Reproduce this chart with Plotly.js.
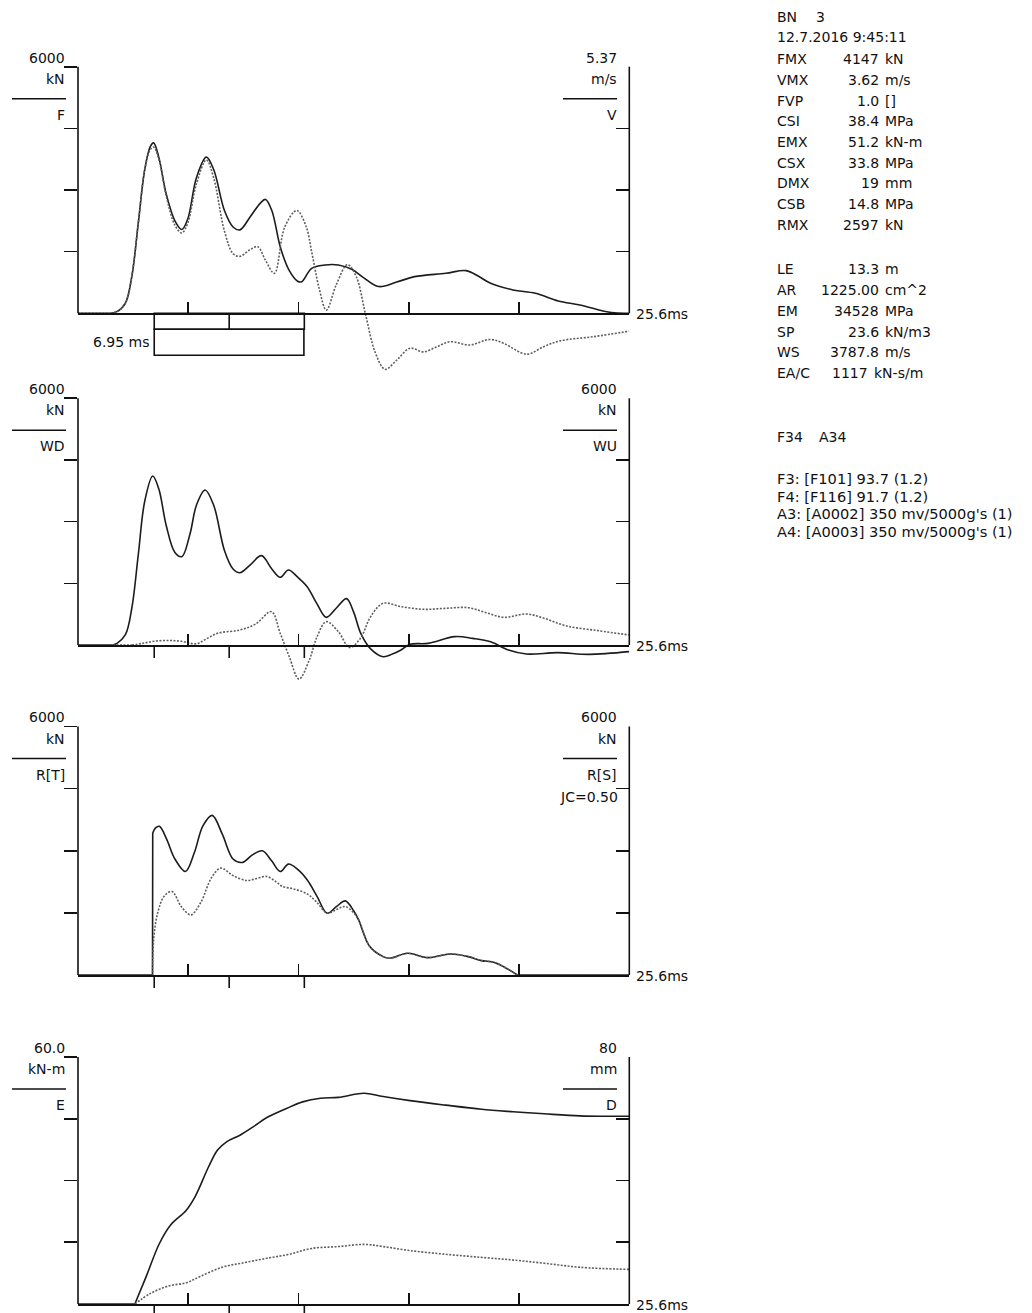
<!DOCTYPE html>
<html>
<head>
<meta charset="utf-8">
<script src="https://cdn.plot.ly/plotly-3.0.1.min.js"></script>
<style>
  html, body { margin: 0; padding: 0; background: #ffffff; }
  #chart { width: 1032px; height: 1313px; }
</style>
</head>
<body>
<div id="chart"></div>
<script>
// ---------------- DATA ----------------
const tMax = 25.6;                         // ms
const timeTicks = [5.12, 10.24, 15.36, 20.48];
const impactMarks = [3.54, 7.02, 10.51];   // ms
const waveTimeMs = 6.95;

// Panel 1: Force (kN) and Velocity (m/s)
const forceTime = [0, 1.5, 1.81, 2.2, 2.5, 2.8, 3.1, 3.35, 3.51, 3.75, 4.1, 4.5, 4.82, 5.1, 5.5, 5.96, 6.3, 6.8, 7.2, 7.52, 8.0, 8.5, 8.71, 9.0, 9.4, 9.8, 10.2, 10.39, 10.85, 11.47, 12.09, 12.71, 13.24, 13.96, 14.8, 15.63, 17.08, 18.02, 18.6, 19.16, 20.2, 21.24, 22.3, 23.31, 24.77, 25.6];
const forceKN   = [0, 0, 40, 250, 900, 2200, 3500, 4050, 4147, 3800, 2900, 2250, 2040, 2300, 3300, 3800, 3500, 2500, 2100, 2030, 2350, 2700, 2770, 2500, 1600, 1050, 780, 770, 1095, 1176, 1176, 1070, 876, 650, 760, 892, 973, 1038, 900, 730, 568, 486, 300, 203, 16, 0];
const velTime = [0, 1.5, 1.81, 2.2, 2.5, 2.8, 3.1, 3.35, 3.51, 3.75, 4.1, 4.5, 4.82, 5.1, 5.5, 5.96, 6.3, 6.8, 7.2, 7.52, 8.0, 8.35, 8.7, 9.12, 9.6, 10.16, 10.6, 10.85, 11.2, 11.53, 12.0, 12.51, 12.92, 13.34, 13.8, 14.26, 14.8, 15.42, 16.03, 16.66, 17.27, 18.2, 19.13, 19.75, 20.84, 21.61, 22.38, 23.93, 25.6];
const velMS   = [0, 0, 0.04, 0.22, 0.81, 1.97, 3.13, 3.56, 3.62, 3.36, 2.55, 1.92, 1.75, 1.97, 2.82, 3.34, 2.95, 1.79, 1.30, 1.24, 1.39, 1.45, 1.16, 0.87, 1.88, 2.24, 1.88, 1.34, 0.54, 0.07, 0.63, 1.06, 0.80, 0, -0.85, -1.22, -1.02, -0.76, -0.84, -0.73, -0.62, -0.69, -0.57, -0.65, -0.89, -0.73, -0.60, -0.51, -0.39];

// Panel 2: Wave down / Wave up (kN)
const wdTime = [0, 1.6, 1.81, 2.2, 2.5, 2.8, 3.1, 3.47, 3.75, 4.1, 4.5, 4.82, 5.2, 5.5, 5.9, 6.3, 6.8, 7.2, 7.52, 8.0, 8.52, 9.0, 9.39, 9.77, 10.2, 10.64, 11.1, 11.53, 12.0, 12.47, 12.8, 13.13, 13.6, 14.17, 14.6, 15.0, 15.42, 16.25, 17.5, 18.33, 19.16, 19.99, 20.82, 22.27, 23.73, 25.6];
const wdKN   = [0, 0, 40, 250, 900, 2200, 3500, 4111, 3800, 2900, 2250, 2149, 2700, 3400, 3770, 3400, 2300, 1850, 1759, 1950, 2173, 1850, 1646, 1824, 1650, 1419, 1000, 673, 900, 1127, 800, 284, -100, -284, -220, -122, 16, 40, 203, 162, 81, -122, -219, -186, -227, -162];
const wuTime = [0, 2.5, 3.0, 3.5, 4.2, 4.8, 5.5, 5.9, 6.48, 7.52, 8.25, 8.98, 9.39, 9.81, 10.26, 10.74, 11.1, 11.53, 12.09, 12.61, 13.1, 13.6, 14.17, 15.0, 16.04, 17.08, 18.12, 18.95, 19.78, 20.82, 21.65, 22.69, 24.15, 25.6];
const wuKN   = [0, 0, 40, 90, 110, 90, 30, 130, 284, 365, 511, 811, 284, -284, -830, -365, 200, 568, 324, -60, 150, 700, 1014, 932, 868, 892, 908, 786, 673, 754, 649, 462, 349, 243];

// Panel 3: Total / static resistance (kN)
const rtTime = [0, 3.46, 3.47, 3.6, 3.78, 4.1, 4.5, 4.99, 5.4, 5.8, 6.23, 6.7, 7.2, 7.63, 8.1, 8.56, 9.0, 9.39, 9.77, 10.2, 10.64, 11.1, 11.57, 12.0, 12.41, 12.8, 13.03, 13.55, 14.17, 14.48, 15.31, 16.25, 17.29, 18.12, 18.74, 19.37, 20.4, 25.6];
const rtKN   = [0, 0, 3427, 3550, 3589, 3300, 2800, 2500, 2950, 3600, 3855, 3400, 2800, 2718, 2900, 3000, 2750, 2500, 2678, 2550, 2299, 1900, 1492, 1650, 1790, 1550, 1331, 686, 444, 403, 524, 419, 508, 444, 347, 298, 0, 0];
const rsTime = [0, 3.46, 3.47, 3.52, 3.7, 4.0, 4.36, 4.8, 5.24, 5.7, 6.2, 6.63, 7.2, 7.83, 8.3, 8.77, 9.2, 9.5, 10.0, 10.64, 11.1, 11.57, 12.0, 12.41, 12.8, 13.03, 13.55, 14.17, 14.48, 15.31, 16.25, 17.29, 18.12, 18.74, 19.37, 20.4, 25.6];
const rsKN   = [0, 0, 300, 900, 1500, 1900, 2016, 1650, 1452, 1750, 2350, 2581, 2400, 2282, 2330, 2379, 2250, 2137, 2080, 1960, 1750, 1492, 1580, 1653, 1500, 1331, 686, 444, 403, 524, 419, 508, 444, 347, 298, 0, 0];

// Panel 4: Energy (kN-m) and Displacement (mm)
const eTime = [0, 2.64, 3.16, 3.78, 4.30, 5.03, 5.44, 6.07, 6.48, 6.90, 7.52, 8.15, 8.77, 9.60, 10.43, 11.26, 12.09, 12.92, 13.30, 14.17, 15.42, 17.08, 18.74, 20.20, 21.65, 23.31, 24.46, 25.6];
const eKNm  = [0, 0, 6.6, 14.7, 19.2, 22.8, 26.1, 33.4, 37.4, 39.4, 41.0, 43.1, 45.3, 47.3, 49.1, 50.0, 50.2, 51.0, 51.2, 50.4, 49.4, 48.3, 47.3, 46.7, 46.2, 45.7, 45.6, 45.6];
const dTime = [0, 2.64, 3.37, 4.20, 5.03, 5.65, 6.69, 7.73, 8.77, 9.81, 10.85, 12.09, 13.30, 14.17, 15.42, 17.08, 18.74, 20.20, 21.65, 23.31, 25.6];
const dMM   = [0, 0, 3.45, 5.83, 6.9, 8.85, 11.9, 13.4, 14.8, 16.1, 18.0, 18.6, 19.3, 18.6, 17.3, 16.1, 15.1, 14.25, 13.2, 11.9, 11.2];

// Scale labels
const leftMax   = [6000, 6000, 6000, 60];
const rightMax  = [5.37, 6000, 6000, 80];
const leftTop   = ['6000', '6000', '6000', '60.0'];
const leftUnit  = ['kN', 'kN', 'kN', 'kN-m'];
const leftName  = ['F', 'WD', 'R[T]', 'E'];
const rightTop  = ['5.37', '6000', '6000', '80'];
const rightUnit = ['m/s', 'kN', 'kN', 'mm'];
const rightName = ['V', 'WU', 'R[S]', 'D'];
const extraRight = 'JC=0.50';
const timeEndLabel = '25.6ms';

// Info block
const headerLabel = 'BN';
const headerValue = '3';
const headerDate = '12.7.2016 9:45:11';
const resLabels = ['FMX', 'VMX', 'FVP', 'CSI', 'EMX', 'CSX', 'DMX', 'CSB', 'RMX'];
const resValues = ['4147', '3.62', '1.0', '38.4', '51.2', '33.8', '19', '14.8', '2597'];
const resUnits  = ['kN', 'm/s', '[]', 'MPa', 'kN-m', 'MPa', 'mm', 'MPa', 'kN'];
const pileLabels = ['LE', 'AR', 'EM', 'SP', 'WS', 'EA/C'];
const pileValues = ['13.3', '1225.00', '34528', '23.6', '3787.8', '1117'];
const pileUnits  = ['m', 'cm^2', 'MPa', 'kN/m3', 'm/s', 'kN-s/m'];
const sensorHeader = ['F34', 'A34'];
const sensorLines = ['F3: [F101] 93.7 (1.2)', 'F4: [F116] 91.7 (1.2)', "A3: [A0002] 350 mv/5000g's (1)", "A4: [A0003] 350 mv/5000g's (1)"];

// ---------------- LAYOUT ----------------
const W = 1032, H = 1313;
const fx = p => p / W;
const fy = p => 1 - p / H;
const X0 = 78, X1 = 629.3;
const panels = [
  {T: 66.7, B: 313.3, ext: 66},
  {T: 398.3, B: 645, ext: 42},
  {T: 726.5, B: 975, ext: 20},
  {T: 1057, B: 1304, ext: 9}
];
const INK = '#111111';
const FONT = 'DejaVu Sans';
const fontMain = {family: FONT, size: 14, color: INK};
const fontSensor = {family: FONT, size: 14.6, color: INK};

const layout = {
  width: W, height: H,
  margin: {l: 0, r: 0, t: 0, b: 0, pad: 0},
  paper_bgcolor: '#ffffff',
  plot_bgcolor: 'rgba(0,0,0,0)',
  showlegend: false,
  shapes: [],
  annotations: []
};

function ann(text, xpx, ypx, xanchor, font) {
  layout.annotations.push({
    text: text, xref: 'paper', yref: 'paper',
    x: fx(xpx), y: fy(ypx), xanchor: xanchor, yanchor: 'middle',
    showarrow: false, font: font || fontMain, borderpad: 0
  });
}
function pline(x0, y0, x1, y1, w) {
  layout.shapes.push({type: 'line', xref: 'paper', yref: 'paper',
    x0: fx(x0), y0: fy(y0), x1: fx(x1), y1: fy(y1),
    line: {color: INK, width: w || 1.6}});
}

panels.forEach((p, i) => {
  const xn = i === 0 ? 'x' : 'x' + (i + 1);
  const xa = i === 0 ? 'xaxis' : 'xaxis' + (i + 1);
  const yL = 2 * i + 1, yR = 2 * i + 2;
  const yLn = yL === 1 ? 'y' : 'y' + yL;
  const yLa = yL === 1 ? 'yaxis' : 'yaxis' + yL;
  const yRa = 'yaxis' + yR;
  const h = p.B - p.T;
  layout[xa] = {
    domain: [fx(X0), fx(X1)], range: [0, tMax], anchor: 'free', position: fy(p.B),
    showline: true, linecolor: INK, linewidth: 1.6,
    ticks: 'inside', ticklen: 11, tickwidth: 1.6, tickcolor: INK,
    tickmode: 'array', tickvals: timeTicks, showticklabels: false,
    showgrid: false, zeroline: false, fixedrange: true
  };
  const common = {
    domain: [fy(p.B + p.ext), fy(p.T)], anchor: xn,
    showline: false, showgrid: false, zeroline: false, showticklabels: false,
    ticklen: 13, tickwidth: 1.6, tickcolor: INK, tickmode: 'array', fixedrange: true
  };
  layout[yLa] = Object.assign({}, common, {
    range: [-p.ext / h * leftMax[i], leftMax[i]], ticks: 'outside', side: 'left',
    tickvals: [0.25, 0.5, 0.75, 1].map(f => f * leftMax[i])
  });
  layout[yRa] = Object.assign({}, common, {
    range: [-p.ext / h * rightMax[i], rightMax[i]], ticks: 'inside', side: 'right',
    overlaying: yLn,
    tickvals: [0.25, 0.5, 0.75, 1].map(f => f * rightMax[i])
  });
  pline(X0, p.B, X0, p.T);
  pline(X1, p.B, X1, p.T);
  ann(leftTop[i], 66, p.T - 9, 'right');
  ann(leftUnit[i], 66, p.T + 12, 'right');
  pline(12, p.T + 32, 66, p.T + 32, 1.4);
  ann(leftName[i], 66, p.T + 48, 'right');
  ann(rightTop[i], 618, p.T - 9, 'right');
  ann(rightUnit[i], 618, p.T + 12, 'right');
  pline(563, p.T + 32, 617, p.T + 32, 1.4);
  ann(rightName[i], 618, p.T + 48, 'right');
  ann(timeEndLabel, 635, p.B + 1, 'left');
  if (i > 0) {
    impactMarks.forEach(t => {
      layout.shapes.push({type: 'line', xref: xn, yref: 'paper',
        x0: t, x1: t, y0: fy(p.B), y1: fy(p.B + 13), line: {color: INK, width: 1.6}});
    });
  }
});
ann(extraRight, 619, panels[2].T + 70, 'right');

// 2L/c bracket under panel 1
const B1 = panels[0].B;
layout.shapes.push({type: 'rect', xref: 'x', yref: 'paper',
  x0: impactMarks[0], x1: impactMarks[2], y0: fy(B1), y1: fy(B1 + 16),
  line: {color: INK, width: 1.6}, fillcolor: 'rgba(0,0,0,0)'});
layout.shapes.push({type: 'line', xref: 'x', yref: 'paper',
  x0: impactMarks[1], x1: impactMarks[1], y0: fy(B1), y1: fy(B1 + 16),
  line: {color: INK, width: 1.6}});
layout.shapes.push({type: 'rect', xref: 'x', yref: 'paper',
  x0: impactMarks[0], x1: impactMarks[0] + waveTimeMs, y0: fy(B1 + 16), y1: fy(B1 + 42),
  line: {color: INK, width: 1.6}, fillcolor: 'rgba(0,0,0,0)'});
ann(waveTimeMs.toFixed(2) + ' ms', 151, B1 + 28.5, 'right');

// Info block
ann(headerLabel, 776, 17.3, 'left');
ann(headerValue, 815, 17.3, 'left');
ann(headerDate, 776, 36.7, 'left');
resLabels.forEach((lab, k) => {
  const y = 59.3 + k * 20.7;
  ann(lab, 776, y, 'left');
  ann(resValues[k], 880, y, 'right');
  ann(resUnits[k], 884, y, 'left');
});
pileLabels.forEach((lab, k) => {
  const y = 269.3 + k * 20.8;
  const vr = lab === 'EA/C' ? 869 : 880;
  ann(lab, 776, y, 'left');
  ann(pileValues[k], vr, y, 'right');
  ann(pileUnits[k], vr + 4, y, 'left');
});
ann(sensorHeader[0], 776, 436.7, 'left');
ann(sensorHeader[1], 818, 436.7, 'left');
sensorLines.forEach((s, k) => ann(s, 776, 478.3 + k * 17.8, 'left', fontSensor));

// ---------------- TRACES ----------------
const solid = {color: '#1c1c1c', width: 1.6};
const dotted = {color: '#5e5e5e', width: 1.6, dash: '2px,1.5px'};
// Flat / jump parts are drawn straight, the rest smoothed (spline) - same data.
function traceSet(x, y, xa, ya, style, s0, s1) {
  const out = [];
  const mk = (a, b, shape) => ({
    type: 'scatter', mode: 'lines', x: x.slice(a, b + 1), y: y.slice(a, b + 1),
    xaxis: xa, yaxis: ya, hoverinfo: 'skip',
    line: Object.assign({}, style, shape === 'spline' ? {shape: 'spline', smoothing: 1} : {shape: 'linear'})
  });
  if (s0 > 0) out.push(mk(0, s0, 'linear'));
  out.push(mk(s0, s1, 'spline'));
  if (s1 < x.length - 1) out.push(mk(s1, x.length - 1, 'linear'));
  return out;
}
const last = a => a.length - 1;
const traces = [].concat(
  traceSet(velTime, velMS, 'x', 'y2', dotted, 1, last(velTime)),
  traceSet(forceTime, forceKN, 'x', 'y', solid, 1, last(forceTime)),
  traceSet(wuTime, wuKN, 'x2', 'y4', dotted, 1, last(wuTime)),
  traceSet(wdTime, wdKN, 'x2', 'y3', solid, 1, last(wdTime)),
  traceSet(rsTime, rsKN, 'x3', 'y6', dotted, 2, rsTime.indexOf(20.4)),
  traceSet(rtTime, rtKN, 'x3', 'y5', solid, 2, rtTime.indexOf(20.4)),
  traceSet(dTime, dMM, 'x4', 'y8', dotted, 1, last(dTime)),
  traceSet(eTime, eKNm, 'x4', 'y7', solid, 1, last(eTime))
);

Plotly.newPlot('chart', traces, layout, {staticPlot: true, displayModeBar: false});
</script>
</body>
</html>
